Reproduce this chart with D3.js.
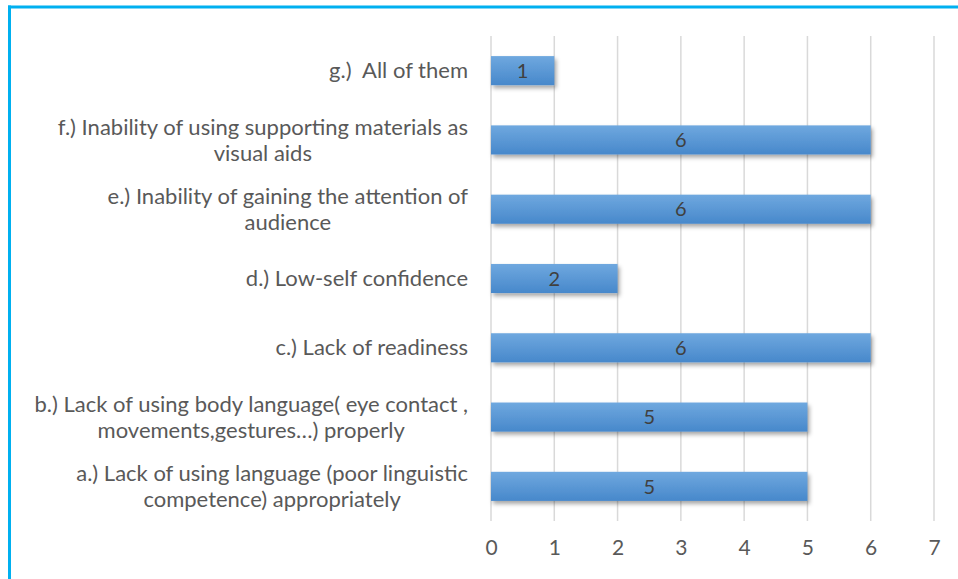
<!DOCTYPE html>
<html>
<head>
<meta charset="utf-8">
<script src="https://cdn.jsdelivr.net/npm/d3@7"></script>
<style>
  html, body { margin: 0; padding: 0; background: #fff; }
  svg { display: block; }
  text { white-space: pre; }
</style>
</head>
<body>
<svg id="chart" width="958" height="579"></svg>
<script>
// Reasons given, listed bottom to top; "\n" marks a line break in the label.
const categories = [
  "a.) Lack of using language (poor linguistic\ncompetence) appropriately",
  "b.) Lack of using body language( eye contact ,\nmovements,gestures…) properly",
  "c.) Lack of readiness",
  "d.) Low-self confidence",
  "e.) Inability of gaining the attention of\naudience",
  "f.) Inability of using supporting materials as\nvisual aids",
  "g.)  All of them"
];
const counts = [5, 5, 6, 2, 6, 6, 1];
const tickValues = [0, 1, 2, 3, 4, 5, 6, 7];

const svg = d3.select("#chart");
const W = 958, H = 579;
const FONT = "Lato, 'Open Sans', sans-serif";

// Frame: blue rule along the top and left edge
svg.append("line").attr("x1", 8).attr("x2", W).attr("y1", 7).attr("y2", 7)
  .attr("stroke", "#00B0F0").attr("stroke-width", 3);
svg.append("line").attr("x1", 9.5).attr("x2", 9.5).attr("y1", 5.5).attr("y2", H)
  .attr("stroke", "#00B0F0").attr("stroke-width", 3);

const plot = { left: 491, right: 934, top: 36, bottom: 521 };

const x = d3.scaleLinear().domain([0, 7]).range([plot.left, plot.right]);
const y = d3.scaleBand()
  .domain(d3.range(categories.length).reverse())
  .range([plot.top, plot.bottom])
  .paddingInner(0.58)
  .paddingOuter(0.29);

const defs = svg.append("defs");
const grad = defs.append("linearGradient").attr("id", "barFill")
  .attr("x1", 0).attr("y1", 0).attr("x2", 0).attr("y2", 1);
grad.append("stop").attr("offset", "0%").attr("stop-color", "#6FA8DF");
grad.append("stop").attr("offset", "100%").attr("stop-color", "#4788CB");

const shadow = defs.append("filter").attr("id", "barShadow")
  .attr("x", "-5%").attr("y", "-30%").attr("width", "115%").attr("height", "180%");
shadow.append("feDropShadow").attr("dx", 2).attr("dy", 3)
  .attr("stdDeviation", 2.2).attr("flood-color", "#000").attr("flood-opacity", 0.35);

// Vertical gridlines
svg.append("g")
  .selectAll("line")
  .data(tickValues)
  .join("line")
  .attr("x1", d => x(d)).attr("x2", d => x(d))
  .attr("y1", plot.top).attr("y2", plot.bottom)
  .attr("stroke", "#D9D9D9").attr("stroke-width", 1.5);

// Value axis along the bottom (labels only)
const xAxis = svg.append("g")
  .attr("transform", `translate(0,${plot.bottom})`)
  .call(d3.axisBottom(x).tickValues(tickValues).tickSize(0).tickPadding(19).tickFormat(d3.format("d")));
xAxis.select(".domain").remove();
xAxis.selectAll("text")
  .attr("fill", "#595959").attr("font-family", FONT).attr("font-size", 21);

// Bars
const rows = d3.range(categories.length);
svg.append("g")
  .selectAll("rect")
  .data(rows)
  .join("rect")
  .attr("x", x(0))
  .attr("y", i => y(i))
  .attr("width", i => x(counts[i]) - x(0))
  .attr("height", y.bandwidth())
  .attr("fill", "url(#barFill)")
  .attr("filter", "url(#barShadow)");

// Value labels centred in each bar
svg.append("g")
  .selectAll("text")
  .data(rows)
  .join("text")
  .attr("x", i => (x(0) + x(counts[i])) / 2)
  .attr("y", i => y(i) + y.bandwidth() / 2)
  .attr("dy", "0.36em")
  .attr("text-anchor", "middle")
  .attr("font-family", FONT).attr("font-size", 20)
  .attr("fill", "#404040")
  .text(i => counts[i]);

// Category labels: block right-aligned, wrapped lines centred on each other
const labelRight = 468;
const lineH = 26;
const labelG = svg.append("g");
rows.forEach(i => {
  const lines = categories[i].split("\n");
  const cy = y(i) + y.bandwidth() / 2;
  const t = labelG.append("text")
    .attr("font-family", FONT).attr("font-size", 22)
    .attr("fill", "#595959")
    .attr("text-anchor", "middle");
  const spans = lines.map((ln, k) => t.append("tspan")
    .attr("y", cy + (k - (lines.length - 1) / 2) * lineH)
    .attr("dy", "0.35em")
    .text(ln));
  const widest = d3.max(spans, s => s.node().getComputedTextLength());
  spans.forEach(s => s.attr("x", labelRight - widest / 2));
});
</script>
</body>
</html>
